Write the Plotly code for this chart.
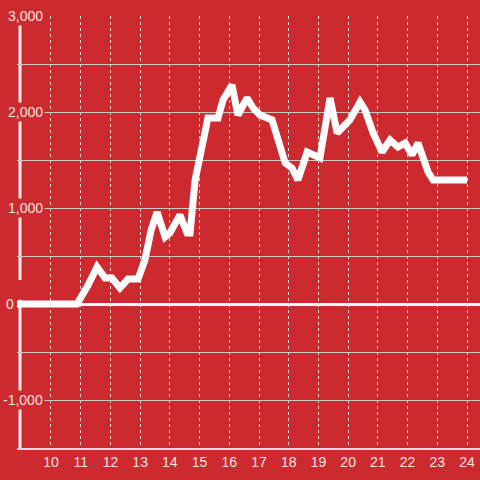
import plotly.graph_objects as go

# data (hours of day, value)
hours = [8.75, 10.875, 11.25, 11.55, 11.82, 12.05, 12.32, 12.59, 12.93, 13.16, 13.37, 13.57,
         13.84, 14.0, 14.34, 14.58, 14.68, 14.85, 15.28, 15.62, 15.79, 16.09, 16.29, 16.6,
         16.8, 17.03, 17.44, 17.71, 17.88, 18.11, 18.31, 18.62, 19.05, 19.39, 19.63, 20.06,
         20.4, 20.57, 20.84, 21.14, 21.41, 21.68, 21.92, 22.15, 22.35, 22.69, 22.86, 24.0]
values = [0, 0, 198, 385, 271, 271, 167, 260, 260, 458, 771, 958,
          698, 740, 927, 740, 740, 1292, 1938, 1938, 2125, 2281, 1969, 2146,
          2042, 1969, 1917, 1635, 1469, 1417, 1292, 1583, 1521, 2146, 1781, 1917,
          2104, 2021, 1781, 1583, 1708, 1635, 1677, 1552, 1677, 1375, 1292, 1292]

x_ticks = list(range(10, 25))
y_label_vals = [3000, 2000, 1000, 0, -1000]
y_label_text = ["3,000", "2,000", "1,000", "0", "-1,000"]

BG = "#cc2a2f"
LABEL = "#f6e2e2"
FONT = "Liberation Sans, Arial, sans-serif"

W, L = 480, 17
PW = W - L
X0, X1 = 8.856, 24.4376
AXIS_X = 8.957

fig = go.Figure()
fig.add_trace(go.Scatter(x=hours, y=values, mode="lines",
                         line=dict(color="white", width=7), hoverinfo="skip"))

# y axis line (slightly inside the plot edge)
fig.add_shape(type="line", xref="x", yref="paper", x0=AXIS_X, x1=AXIS_X, y0=0, y1=1,
              line=dict(color="#f4f0f0", width=3), layer="below")
# gap in the axis line just above zero
fig.add_shape(type="rect", xref="paper", yref="y", x0=0.0, x1=(24 - L) / PW,
              y0=45, y1=250, fillcolor=BG, line=dict(width=0), layer="below")

for v, t in zip(y_label_vals, y_label_text):
    right = 16 if v == 0 else 45
    fig.add_annotation(x=(right - L) / PW, xref="paper", y=v, yref="y",
                       text=t, showarrow=False, xanchor="right", yanchor="middle",
                       bgcolor=BG if v != 0 else "rgba(0,0,0,0)", borderpad=1,
                       font=dict(size=14, color=LABEL, family=FONT))

fig.update_layout(
    width=480, height=480,
    margin=dict(l=L, r=0, t=16, b=32),
    paper_bgcolor=BG, plot_bgcolor=BG,
    showlegend=False,
    font=dict(family=FONT, size=14, color=LABEL),
    xaxis=dict(range=[X0, X1], tickvals=x_ticks, ticks="",
               showgrid=True, gridcolor="#dcdcdc", gridwidth=1, griddash="dot",
               showline=True, linecolor="#dcdcdc", linewidth=2,
               zeroline=False, tickfont=dict(size=14, color=LABEL, family=FONT)),
    yaxis=dict(range=[-1500, 3000], dtick=1000, showticklabels=False, ticks="",
               showgrid=True, gridcolor="#c8c8c8", gridwidth=1,
               minor=dict(dtick=500, showgrid=True, gridcolor="#c8c8c8", gridwidth=1),
               zeroline=True, zerolinecolor="white", zerolinewidth=3,
               showline=False),
)

fig.write_html("out.html", config={"displayModeBar": False},
               post_script="document.body.style.margin='0';")
